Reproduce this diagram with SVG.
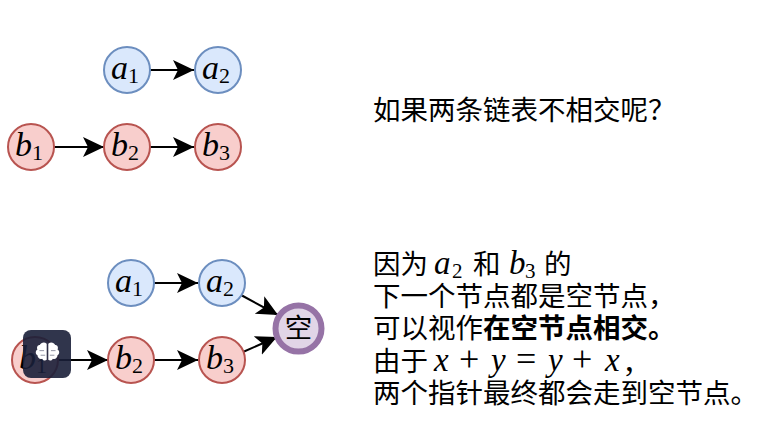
<svg xmlns="http://www.w3.org/2000/svg" width="768" height="447" viewBox="0 0 768 447">
<style>
.a{fill:#dae8fc;stroke:#6c8ebf;stroke-width:2}
.b{fill:#f8cecc;stroke:#b85450;stroke-width:2}
.e{stroke:#000;stroke-width:2;fill:none;marker-end:url(#arr)}
.m{font-family:"Liberation Serif",serif;font-style:italic;font-size:34px;fill:#000;text-anchor:middle}
.s{font-style:normal;font-size:22px}
.t{font-family:"Noto Sans CJK SC","Noto Sans",sans-serif;font-size:27.500px;fill:#000}
.tm{font-family:"Liberation Serif",serif;font-style:italic;font-size:33px}
.ts{font-style:normal;font-size:21px}
.up{font-style:normal;font-size:36px}
</style>
<defs>
<marker id="arr" markerUnits="userSpaceOnUse" markerWidth="24" markerHeight="22" refX="21" refY="10" orient="auto">
<path d="M0 0 L21 10 L0 20 L5 10 Z" fill="#000"/>
</marker>
</defs>
<g id="connectors">
<path class="e" d="M150 70H194"/>
<path class="e" d="M54 147H104"/>
<path class="e" d="M150 147H194"/>
<path class="e" d="M154 283H198"/>
<path class="e" d="M58 360H108"/>
<path class="e" d="M154 360H198"/>
<path class="e" d="M241 295L278 315"/>
<path class="e" d="M243 352L277 337"/>
</g>
<g id="n-a1-top"><circle class="a" cx="127" cy="70" r="23"/><text class="m" x="125" y="79">a<tspan class="s" dy="4">1</tspan></text></g>
<g id="n-a2-top"><circle class="a" cx="218" cy="70" r="23"/><text class="m" x="216" y="79">a<tspan class="s" dy="4">2</tspan></text></g>
<g id="n-b1-top"><circle class="b" cx="31" cy="147" r="23"/><text class="m" x="29" y="156">b<tspan class="s" dy="4">1</tspan></text></g>
<g id="n-b2-top"><circle class="b" cx="127" cy="147" r="23"/><text class="m" x="125" y="156">b<tspan class="s" dy="4">2</tspan></text></g>
<g id="n-b3-top"><circle class="b" cx="218" cy="147" r="23"/><text class="m" x="216" y="156">b<tspan class="s" dy="4">3</tspan></text></g>
<g id="n-a1-bottom"><circle class="a" cx="131" cy="283" r="23"/><text class="m" x="129" y="292">a<tspan class="s" dy="4">1</tspan></text></g>
<g id="n-a2-bottom"><circle class="a" cx="222" cy="283" r="23"/><text class="m" x="220" y="292">a<tspan class="s" dy="4">2</tspan></text></g>
<g id="n-b1-bottom"><circle class="b" cx="35" cy="360" r="23"/><text class="m" x="33" y="369">b<tspan class="s" dy="4">1</tspan></text></g>
<g id="n-b2-bottom"><circle class="b" cx="131" cy="360" r="23"/><text class="m" x="129" y="369">b<tspan class="s" dy="4">2</tspan></text></g>
<g id="n-b3-bottom"><circle class="b" cx="222" cy="360" r="23"/><text class="m" x="220" y="369">b<tspan class="s" dy="4">3</tspan></text></g>
<g id="n-null"><circle cx="298.500" cy="328.500" r="23" fill="#e1d5e7" stroke="#9673a6" stroke-width="6"/><text class="t" x="298.500" y="338" text-anchor="middle">空</text></g>
<g id="badge">
<rect x="23" y="330" width="48" height="48" rx="8" fill="#1a1f38" fill-opacity="0.9"/>
<g transform="translate(47.500 353.500) scale(1.15) translate(-47 -350.500)">
<path d="M46.300 342c-2-2-5-1-6 1-2 0-3 2-2 4-2 1-2 4 0 5 0 2 2 4 4 3 1 2 3 2 4 1Z" fill="#fff"/>
<path d="M47.700 342c2-2 5-1 6 1 2 0 3 2 2 4 2 1 2 4 0 5 0 2-2 4-4 3-1 2-3 2-4 1Z" fill="#fff"/>
<path d="M40 348h4M41 352h4M50 348h4M49 352h4" stroke="#8a8d9c" stroke-width="0.800" fill="none"/>
</g>
</g>
<g id="caption-top"><text class="t" x="373" y="120">如果两条链表不相交呢？</text></g>
<g id="caption-bottom">
<text class="t" x="373" y="274">因为<tspan class="tm" x="434">a</tspan><tspan class="tm ts" x="452" dy="4">2</tspan><tspan x="473" dy="-4">和</tspan><tspan class="tm" x="509">b</tspan><tspan class="tm ts" x="525" dy="4">3</tspan><tspan x="544" dy="-4">的</tspan></text>
<text class="t" x="373" y="306">下一个节点都是空节点，</text>
<text class="t" x="373" y="338">可以视作<tspan font-weight="700">在空节点相交。</tspan></text>
<text class="t" x="373" y="371">由于<tspan class="tm" x="434">x</tspan><tspan class="tm up" x="459">+</tspan><tspan class="tm" x="491">y</tspan><tspan class="tm up" x="516">=</tspan><tspan class="tm" x="548">y</tspan><tspan class="tm up" x="572">+</tspan><tspan class="tm" x="605">x</tspan><tspan class="tm up" x="625">,</tspan></text>
<text class="t" x="373" y="403">两个指针最终都会走到空节点。</text>
</g>
</svg>
